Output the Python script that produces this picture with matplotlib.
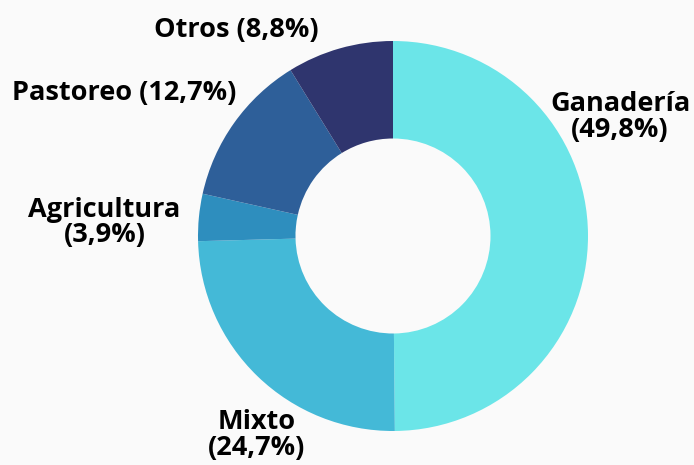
import matplotlib
matplotlib.use("Agg")
import matplotlib.pyplot as plt

# Datos
categorias = ["Ganadería", "Mixto", "Agricultura", "Pastoreo", "Otros"]
valores = [49.8, 24.7, 3.9, 12.7, 8.8]
colores = ["#6be5e8", "#44b9d7", "#2e8ebe", "#2e5f99", "#2f356e"]

# posiciones de etiquetas (coords del eje) y si van en una línea
pos_etiquetas = [(1.165, 0.61), (-0.70, -1.02), (-1.48, 0.07), (-1.38, 0.735), (-0.805, 1.055)]
una_linea = [False, False, False, True, True]

fondo = "#fafafa"
plt.rcParams["font.family"] = ["Open Sans", "DejaVu Sans"]

fig = plt.figure(figsize=(6.94, 4.65), dpi=100, facecolor=fondo)
cx, cy, r = 393, 236, 195
ax = fig.add_axes([(cx - r) / 694, (465 - cy - r) / 465, 2 * r / 694, 2 * r / 465])
ax.set_facecolor(fondo)

ax.pie(valores, colors=colores, startangle=90, counterclock=False,
       radius=1, wedgeprops=dict(width=0.5, linewidth=0))
ax.set_xlim(-1, 1)
ax.set_ylim(-1, 1)
ax.set_aspect("equal")
ax.axis("off")

for cat, val, (x, y), linea in zip(categorias, valores, pos_etiquetas, una_linea):
    pct = f"{val:.1f}".replace(".", ",")
    sep = " " if linea else "\n"
    ax.text(x, y, f"{cat}{sep}({pct}%)", ha="center", va="center",
            fontsize=19.5, fontweight="bold", linespacing=0.98, clip_on=False)

fig.savefig("out.png", dpi=100, facecolor=fondo)
